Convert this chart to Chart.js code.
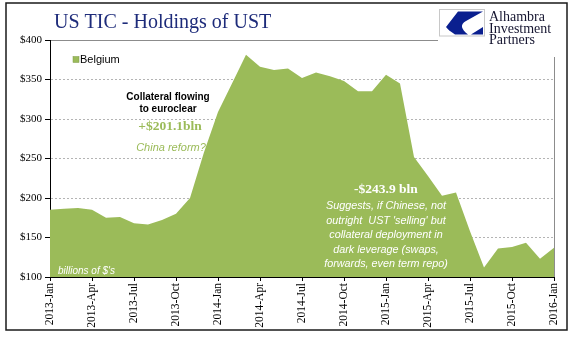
<!DOCTYPE html>
<html>
<head>
<meta charset="utf-8">
<script src="https://cdn.jsdelivr.net/npm/chart.js"></script>
<style>
  html, body { margin: 0; padding: 0; background: #fff; }
  canvas { display: block; }
</style>
</head>
<body>
<canvas id="grafico" width="580" height="341"></canvas>
<script>
// months shown on the x axis (label every 3rd one)
var meses = [
  '2013-Jan','2013-Feb','2013-Mar','2013-Apr','2013-May','2013-Jun','2013-Jul','2013-Aug','2013-Sep','2013-Oct','2013-Nov','2013-Dec',
  '2014-Jan','2014-Feb','2014-Mar','2014-Apr','2014-May','2014-Jun','2014-Jul','2014-Aug','2014-Sep','2014-Oct','2014-Nov','2014-Dec',
  '2015-Jan','2015-Feb','2015-Mar','2015-Apr','2015-May','2015-Jun','2015-Jul','2015-Aug','2015-Sep','2015-Oct','2015-Nov','2015-Dec',
  '2016-Jan'
];

// Belgium holdings of UST, $ billions
var belgica = [
  185, 186.5, 187.5, 185, 175, 176, 168, 166.5, 172, 180.1, 200, 258,
  309, 345, 381.2, 366, 362, 364, 352, 359, 354, 348, 335, 335,
  355.9, 345, 252, 228, 203, 207, 158, 112, 136, 138, 143.5, 123,
  137
];

var yMin = 100, yMax = 400, yPaso = 50;

var verde = '#9bbb59';

var extras = {
  id: 'extras',
  afterDraw: function(chart) {
    var c = chart.ctx;
    var area = chart.chartArea;
    c.save();

    // right edge of plot
    c.strokeStyle = '#8c8c8c';
    c.lineWidth = 1;
    c.beginPath();
    c.moveTo(Math.round(area.right) + 0.5, area.top);
    c.lineTo(Math.round(area.right) + 0.5, area.bottom);
    c.stroke();

    // logo background
    c.fillStyle = '#fff';
    c.fillRect(438, 4, 128, 53);

    // title
    c.fillStyle = '#1d2b7a';
    c.font = '20px "Liberation Serif"';
    c.textAlign = 'left';
    c.textBaseline = 'alphabetic';
    c.fillText('US TIC - Holdings of UST', 54, 28);

    // legend
    c.fillStyle = verde;
    c.fillRect(73, 56.5, 6, 6);
    c.strokeStyle = '#7f9a48';
    c.lineWidth = 0.5;
    c.strokeRect(73, 56.5, 6, 6);
    c.fillStyle = '#000';
    c.font = '11px "Liberation Sans"';
    c.textBaseline = 'middle';
    c.fillText('Belgium', 80, 60);

    // annotations
    c.textAlign = 'center';
    c.fillStyle = '#000';
    c.font = 'bold 10px "Liberation Sans"';
    c.fillText('Collateral flowing', 168, 97);
    c.fillText('to euroclear', 168, 109.5);

    c.fillStyle = verde;
    c.font = 'bold 13.5px "Liberation Serif"';
    c.fillText('+$201.1bln', 170, 127);
    c.font = 'italic 11px "Liberation Sans"';
    c.fillText('China reform?', 171, 148);

    c.fillStyle = '#fff';
    c.font = 'bold 13.5px "Liberation Serif"';
    c.fillText('-$243.9 bln', 386, 190);
    c.font = 'italic 10.8px "Liberation Sans"';
    var lineas = [
      'Suggests, if Chinese, not',
      "outright  UST 'selling' but",
      'collateral deployment in',
      'dark leverage (swaps,',
      'forwards, even term repo)'
    ];
    var ys = [206, 220.5, 235, 249.5, 264];
    lineas.forEach(function(t, i) { c.fillText(t, 386, ys[i]); });

    c.textAlign = 'left';
    c.font = 'italic 10px "Liberation Sans"';
    c.fillText("billions of $'s", 58, 271);

    // logo
    c.fillStyle = '#fff';
    c.fillRect(439.5, 9.5, 45, 26.5);
    c.strokeStyle = '#c8c8c8';
    c.lineWidth = 1;
    c.strokeRect(439.5, 9.5, 45, 26.5);
    c.fillStyle = '#0a1f8f';
    c.beginPath();
    c.moveTo(458, 11.5);
    c.lineTo(483, 11.5);
    c.lineTo(466, 21);
    c.quadraticCurveTo(457, 26, 468, 34.5);
    c.lineTo(455, 34.5);
    c.quadraticCurveTo(448, 30, 446, 27);
    c.closePath();
    c.fill();
    c.beginPath();
    c.moveTo(471, 34.5);
    c.lineTo(483, 34.5);
    c.lineTo(483, 27);
    c.closePath();
    c.fill();

    c.fillStyle = '#151530';
    c.font = '14px "Liberation Serif"';
    c.textBaseline = 'alphabetic';
    c.fillText('Alhambra', 489, 21);
    c.fillText('Investment', 489, 32.5);
    c.fillText('Partners', 489, 44);

    // outer frame
    c.strokeStyle = '#1a1a1a';
    c.lineWidth = 1.5;
    c.strokeRect(6, 3, 561, 327);

    c.restore();
  }
};

var ctx = document.getElementById('grafico');
var grafico = new Chart(ctx, {
  type: 'line',
  data: {
    labels: meses,
    datasets: [{
      label: 'Belgium',
      data: belgica,
      backgroundColor: verde,
      borderWidth: 0,
      pointRadius: 0,
      fill: 'start',
      tension: 0
    }]
  },
  options: {
    responsive: false,
    animation: false,
    devicePixelRatio: 1,
    layout: { padding: { top: 40, right: 26, left: 0, bottom: 0 } },
    plugins: {
      legend: { display: false },
      title: { display: false },
      tooltip: { enabled: false }
    },
    scales: {
      x: {
        afterFit: function(s) { s.height = 64; },
        grid: {
          drawOnChartArea: false,
          tickLength: 4,
          color: function(c) { return c.index % 3 === 0 ? '#000' : 'rgba(0,0,0,0)'; }
        },
        border: { color: '#000', width: 1 },
        ticks: {
          autoSkip: false,
          minRotation: 90,
          maxRotation: 90,
          padding: 2,
          color: '#000',
          font: { family: 'Liberation Serif', size: 11.5 },
          callback: function(v, i) { return i % 3 === 0 ? meses[i] : ''; }
        }
      },
      y: {
        min: yMin,
        max: yMax,
        afterFit: function(s) { s.width = 50; },
        grid: {
          tickLength: 5,
          tickColor: '#000',
          color: function(c) { return c.tick && c.tick.value === yMax ? '#8c8c8c' : '#b4b4b4'; }
        },
        border: {
          color: '#000',
          width: 1,
          dash: function(c) { return c.tick && c.tick.value !== yMax ? [2, 2] : []; }
        },
        ticks: {
          stepSize: yPaso,
          padding: 3,
          color: '#000',
          font: { family: 'Liberation Serif', size: 11 },
          callback: function(v) { return '$' + v; }
        }
      }
    }
  },
  plugins: [extras]
});
</script>
</body>
</html>
